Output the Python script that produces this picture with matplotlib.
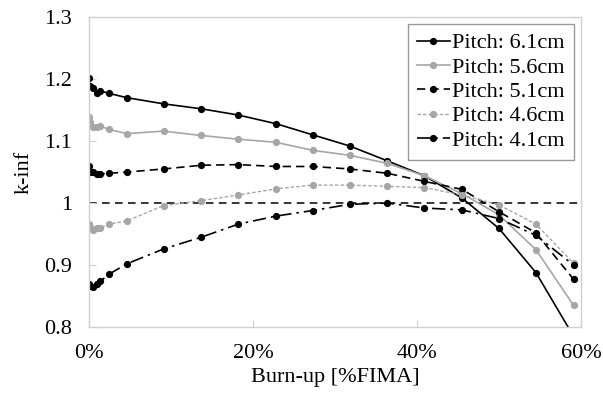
import matplotlib.pyplot as plt
from matplotlib.ticker import FuncFormatter, MultipleLocator

plt.rcParams['font.family'] = ['Liberation Serif', 'DejaVu Serif']

# burn-up points [%FIMA]
burnup = [0, 0.1, 0.5, 1.0, 1.4, 2.4, 4.6, 9.1, 13.7, 18.2, 22.8,
          27.3, 31.8, 36.4, 40.9, 45.5, 50.0, 54.5, 59.1]

k_61 = [1.201, 1.189, 1.185, 1.177, 1.181, 1.177, 1.170, 1.160, 1.152, 1.142, 1.128,
        1.110, 1.092, 1.068, 1.044, 1.008, 0.959, 0.888, 0.785]
k_56 = [1.138, 1.131, 1.123, 1.123, 1.124, 1.119, 1.112, 1.116, 1.109, 1.103, 1.098,
        1.085, 1.077, 1.064, 1.044, 1.015, 0.981, 0.925, 0.835]
k_51 = [1.060, 1.050, 1.050, 1.047, 1.047, 1.048, 1.050, 1.055, 1.061, 1.062, 1.059,
        1.059, 1.055, 1.048, 1.035, 1.022, 0.986, 0.952, 0.877]
k_46 = [0.966, 0.962, 0.956, 0.959, 0.960, 0.966, 0.971, 0.996, 1.004, 1.013, 1.023,
        1.029, 1.029, 1.027, 1.025, 1.013, 0.997, 0.966, 0.903]
k_41 = [0.870, 0.866, 0.864, 0.870, 0.874, 0.885, 0.902, 0.926, 0.945, 0.966, 0.979,
        0.988, 0.998, 1.000, 0.992, 0.989, 0.975, 0.948, 0.900]

labels = ['Pitch: 6.1cm', 'Pitch: 5.6cm', 'Pitch: 5.1cm', 'Pitch: 4.6cm', 'Pitch: 4.1cm']
gray = '#a6a6a6'

fig = plt.figure(figsize=(6.03, 3.96), dpi=100)
ax = fig.add_axes([0.1476, 0.174, 0.8159, 0.783])

ax.axhline(1.0, color='black', lw=1.1, dashes=(5, 3.5), zorder=1)

ms = 4.2
ax.plot(burnup, k_61, color='black', lw=1.2, marker='o', ms=ms, label=labels[0])
ax.plot(burnup, k_56, color=gray, lw=1.2, marker='o', ms=ms, label=labels[1])
ax.plot(burnup, k_51, color='black', lw=1.2, marker='o', ms=ms, dashes=(5, 3), label=labels[2])
ax.plot(burnup, k_46, color=gray, lw=1.0, marker='o', ms=ms, dashes=(2.5, 1.5), label=labels[3])
ax.plot(burnup, k_41, color='black', lw=1.2, marker='o', ms=ms, dashes=(8, 3, 1.5, 3), label=labels[4])

ax.set_xlim(0, 60)
ax.set_ylim(0.8, 1.3)
ax.xaxis.set_major_locator(MultipleLocator(20))
ax.yaxis.set_major_locator(MultipleLocator(0.1))
ax.xaxis.set_major_formatter(FuncFormatter(lambda v, p: '%d%%' % round(v)))
ax.yaxis.set_major_formatter(FuncFormatter(lambda v, p: '%g' % round(v, 1)))

for s in ax.spines.values():
    s.set_color('#d0d0d0')
    s.set_linewidth(1.0)
ax.tick_params(direction='in', length=5, color='#d0d0d0', labelsize=16)
ax.tick_params(axis='x', pad=12)
ax.tick_params(axis='y', pad=12)

ax.set_xlabel('Burn-up [%FIMA]', fontsize=16, labelpad=4)
ax.set_ylabel('k-inf', fontsize=16, labelpad=8)

leg = ax.legend(loc='upper right', fontsize=16, frameon=True, fancybox=False,
                handlelength=1.5, handletextpad=0.1, borderpad=0.4,
                labelspacing=0.17, borderaxespad=0, bbox_to_anchor=(0.985, 0.978))
leg.get_frame().set_edgecolor('#808080')
leg.get_frame().set_linewidth(1.0)

fig.savefig('out.png', dpi=100)
